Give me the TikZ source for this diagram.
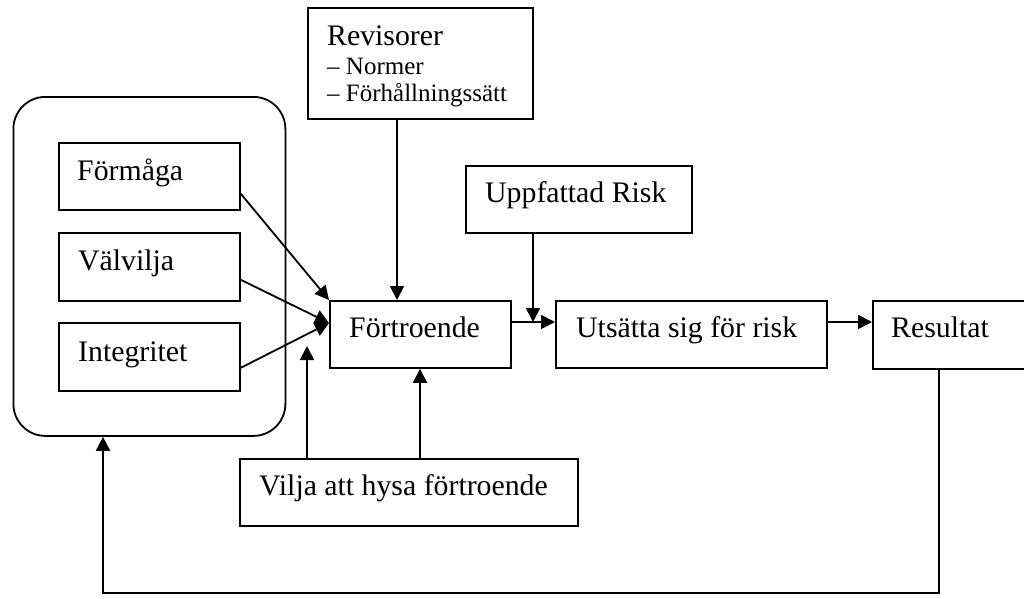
\documentclass[tikz,border=0pt]{standalone}
\usepackage{fontspec}
\setmainfont{Liberation Serif}
\usetikzlibrary{arrows.meta,calc}
\begin{document}
\begin{tikzpicture}[x=1pt,y=-1pt,
  box/.style={draw,line width=1.8pt,rectangle,inner sep=0pt,anchor=north west},
  txt/.style={anchor=base west,inner sep=0pt,font=\fontsize{29.8}{34}\selectfont},
  smalltxt/.style={anchor=base west,inner sep=0pt,font=\fontsize{25}{29}\selectfont},
  arr/.style={line width=1.8pt,-{Triangle[length=14pt,width=14pt]}}]
\useasboundingbox (0,0) rectangle (1024,598);
% group box
\node[box,rounded corners=32pt,minimum width=272pt,minimum height=339pt] (grp) at (12.5,96) {};
% boxes
\node[box,minimum width=181pt,minimum height=67pt] (form) at (58,142) {};
\node[box,minimum width=181pt,minimum height=68pt] (valv) at (58,232) {};
\node[box,minimum width=181pt,minimum height=68pt] (integ) at (58,322) {};
\node[box,minimum width=225pt,minimum height=111pt] (rev) at (307,7) {};
\node[box,minimum width=226pt,minimum height=67pt] (upp) at (465,165) {};
\node[box,minimum width=181pt,minimum height=67pt] (fort) at (329,300) {};
\node[box,minimum width=271pt,minimum height=67pt] (uts) at (555,300) {};
\node[box,minimum width=160pt,minimum height=68pt] (res) at (872,300) {};
\node[box,minimum width=338pt,minimum height=67pt] (vil) at (239,458) {};
% texts
\node[txt] (form-t) at (77,180) {Förmåga};
\node[txt] (valv-t) at (78,270) {Välvilja};
\node[txt] (integ-t) at (78,361) {Integritet};
\node[txt] (rev-t1) at (327,45) {Revisorer};
\node[smalltxt] (rev-t2) at (327,74) {– Normer};
\node[smalltxt] (rev-t3) at (327,101.5) {– Förhållningssätt};
\node[txt] (upp-t) at (485,202.5) {Uppfattad Risk};
\node[txt] (fort-t) at (349,337) {Förtroende};
\node[txt] (uts-t) at (576,337) {Utsätta sig för risk};
\node[txt] (res-t) at (891,337) {Resultat};
\node[txt] (vil-t) at (259,495) {Vilja att hysa förtroende};
% coordinates
\coordinate (revin) at ($(fort.north west)+(68,0)$);
\coordinate (j) at ($(uts.north west)+(-22,22)$);
\coordinate (vin) at ($(fort.south west)+(91,0)$);
\coordinate (vfree) at (307,346);
\coordinate (fbR) at (939,593);
\coordinate (fbL) at (103,593);
% connectors
\draw[arr] ($(form.south east)+(0,-17)$) -- (fort.north west);
\draw[arr] ($(valv.south east)+(0,-22)$) -- ($(fort.north west)+(0,23)$);
\draw[arr] ($(integ.south east)+(0,-24)$) -- ($(fort.north west)+(0,23)$);
\draw[arr] (rev.south -| revin) -- (revin);
\draw[arr] ($(fort.north east)+(0,22)$) -- ($(uts.north west)+(0,22)$);
\draw[arr] (upp.south -| j) -- (j);
\draw[arr] ($(uts.north east)+(0,22)$) -- ($(res.north west)+(0,22)$);
\draw[arr] (vil.north -| vfree) -- (vfree);
\draw[arr] (vil.north -| vin) -- (vin);
\draw[arr] (res.south -| fbR) -- (fbR) -- (fbL) -- (grp.south -| fbL);
\end{tikzpicture}
\end{document}
